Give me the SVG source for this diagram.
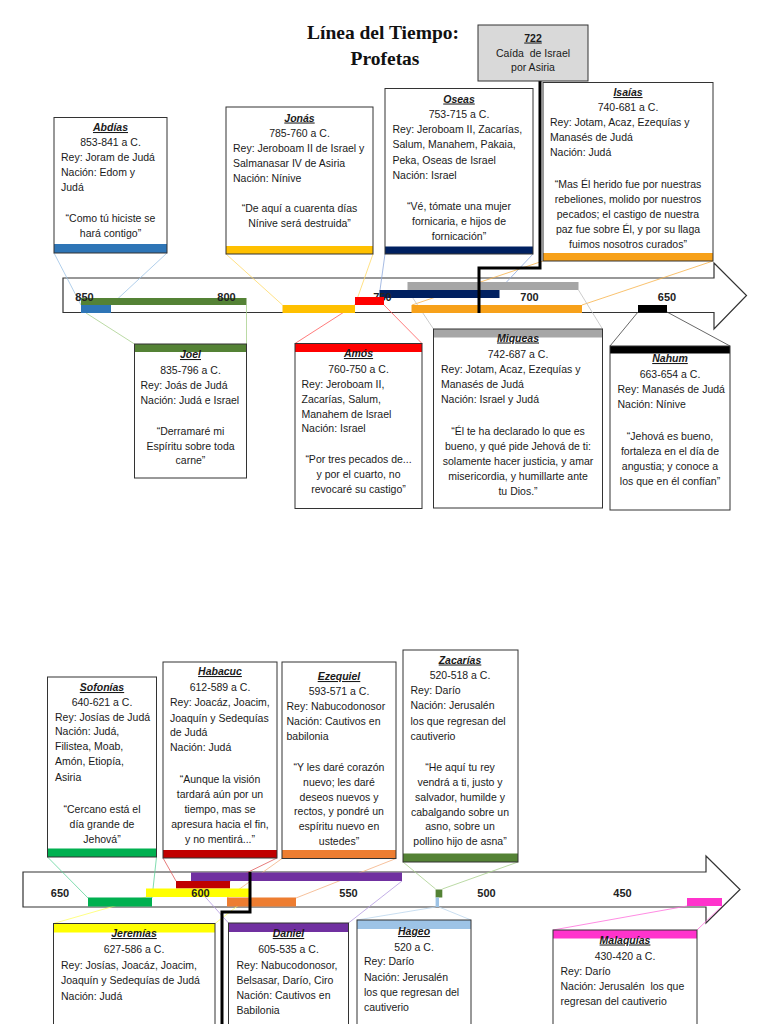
<svg xmlns="http://www.w3.org/2000/svg" width="768" height="1024" viewBox="0 0 768 1024">
<style>
.bg{fill:#fff;stroke:none}
.bd{fill:none;stroke:#333;stroke-width:1}
.t{font-family:"Liberation Sans",Arial,sans-serif;font-size:10.5px;fill:#1a1a1a}
.c{text-anchor:middle}
.n{font-weight:bold;font-style:italic;text-decoration:underline}
.y{font-family:"Liberation Sans",Arial,sans-serif;font-size:11px;font-weight:bold;fill:#222;text-anchor:middle}
.arrow{fill:#fff;stroke:#333;stroke-width:1.2;stroke-linejoin:miter}
.conn line{stroke-width:0.8;fill:none}
.thick{fill:none;stroke:#000;stroke-width:3}
.title{font-family:"Liberation Serif","Times New Roman",serif;font-size:19.5px;font-weight:bold;text-anchor:middle;fill:#111}
</style>

<g id="title">
<text class="title" x="383" y="39">Línea del Tiempo:</text>
<text class="title" x="385" y="64.5">Profetas</text>
</g>

<!-- Timeline 1 -->
<g id="timeline1">
<path class="arrow" d="M63,278 H714 V263 L746.5,295.5 L714,329 V312.5 H63 Z"/>
</g>

<!-- Timeline 2 -->
<g id="timeline2">
<path class="arrow" d="M23,872 H706 V856 L740,889.5 L706,923 V907 H23 Z"/>
</g>

<g id="connectors" class="conn">
<!-- section 1 -->
<line x1="54" y1="253" x2="81" y2="305" stroke="#9dc3e6"/>
<line x1="167" y1="253" x2="111" y2="305" stroke="#9dc3e6"/>
<line x1="226" y1="254" x2="282.5" y2="305" stroke="#ffd966"/>
<line x1="373" y1="254" x2="355" y2="305" stroke="#ffd966"/>
<line x1="385" y1="254" x2="380" y2="290" stroke="#8faadc"/>
<line x1="533" y1="254" x2="499" y2="290" stroke="#8faadc"/>
<line x1="543" y1="261" x2="412" y2="305" stroke="#f8b24a"/>
<line x1="713" y1="261" x2="582" y2="305" stroke="#f8b24a"/>
<line x1="86" y1="313" x2="134.5" y2="344" stroke="#a9d18e"/>
<line x1="246.5" y1="305" x2="246.5" y2="344" stroke="#a9d18e"/>
<line x1="355" y1="305" x2="295" y2="343.5" stroke="#ff5b5b"/>
<line x1="384" y1="305" x2="422" y2="343.5" stroke="#ff5b5b"/>
<line x1="407.5" y1="290" x2="433.5" y2="329" stroke="#bfbfbf"/>
<line x1="578.5" y1="290" x2="602.5" y2="329" stroke="#bfbfbf"/>
<line x1="638" y1="312" x2="610" y2="346" stroke="#404040"/>
<line x1="667" y1="312" x2="730" y2="346" stroke="#404040"/>
<!-- section 2 -->
<line x1="47.5" y1="857" x2="88" y2="898" stroke="#5fd39a"/>
<line x1="156.5" y1="857" x2="152" y2="898" stroke="#5fd39a"/>
<line x1="163" y1="858" x2="176" y2="881" stroke="#e05a5a"/>
<line x1="277" y1="858" x2="230" y2="881" stroke="#e05a5a"/>
<line x1="282" y1="858.5" x2="227" y2="898" stroke="#f4b183"/>
<line x1="396" y1="858.5" x2="296" y2="898" stroke="#f4b183"/>
<line x1="403" y1="862" x2="435.6" y2="889" stroke="#a9d18e"/>
<line x1="518" y1="862" x2="442.3" y2="889" stroke="#a9d18e"/>
<line x1="146" y1="897" x2="53.5" y2="923.5" stroke="#ffff66"/>
<line x1="249" y1="897" x2="215" y2="923.5" stroke="#ffff66"/>
<line x1="191" y1="881" x2="228.5" y2="923" stroke="#b49ae0"/>
<line x1="402" y1="881" x2="348.5" y2="923" stroke="#b49ae0"/>
<line x1="435.6" y1="907" x2="357" y2="920" stroke="#bdd7ee"/>
<line x1="439" y1="907" x2="471" y2="920" stroke="#bdd7ee"/>
<line x1="687" y1="906" x2="553" y2="930" stroke="#ff6fdc"/>
<line x1="722" y1="906" x2="697" y2="930" stroke="#ff6fdc"/>
</g>

<g id="bars1">
<rect x="81" y="298" width="165.5" height="7" fill="#548235"/>
<rect x="81" y="305" width="30" height="8" fill="#2e75b6"/>
<rect x="282.5" y="305" width="72.5" height="8" fill="#ffc000"/>
<rect x="379.5" y="290" width="120" height="8" fill="#002060"/>
<rect x="407.5" y="282" width="171" height="8" fill="#a6a6a6"/>
<rect x="411.5" y="305" width="170.5" height="8" fill="#f7a11a"/>
<rect x="638" y="305" width="29" height="7.5" fill="#000"/>
<text class="y" x="84.5" y="301">850</text>
<text class="y" x="226.5" y="301">800</text>
<text class="y" x="382.5" y="301">750</text>
<text class="y" x="529.5" y="301">700</text>
<text class="y" x="667" y="301">650</text>
<rect x="355" y="297" width="29" height="8" fill="#ff0000"/>
</g>

<g id="bars2">
<rect x="191" y="872.5" width="211" height="8.5" fill="#7030a0"/>
<rect x="176" y="881" width="54" height="7.5" fill="#c00000"/>
<rect x="146" y="888.5" width="103.5" height="8.5" fill="#ffff00"/>
<rect x="88" y="897.5" width="64" height="9" fill="#00b050"/>
<rect x="227" y="897.5" width="69" height="9" fill="#ed7d31"/>
<rect x="435.6" y="889.5" width="6.7" height="8" fill="#548235"/>
<rect x="435.6" y="897.5" width="3.4" height="9.5" fill="#9dc3e6"/>
<rect x="687" y="898" width="35" height="8" fill="#ff33cc"/>
<text class="y" x="60" y="897">650</text>
<text class="y" x="200.5" y="897">600</text>
<text class="y" x="348.5" y="897">550</text>
<text class="y" x="486.5" y="897">500</text>
<text class="y" x="622.5" y="897">450</text>
</g>

<g id="links">
<path class="thick" d="M540,81 V268 H479 V313"/>
<path class="thick" d="M250,872 V912 H222 V1030"/>
</g>

<g id="n722">
<rect x="478" y="25" width="110" height="56" fill="#d9d9d9" stroke="#333" stroke-width="1"/>
<text class="t c" x="533" y="41.5" font-weight="bold" text-decoration="underline">722</text>
<text class="t c" x="533" y="56.5" style="white-space:pre">Caída  de Israel</text>
<text class="t c" x="533" y="70.5">por Asiria</text>
</g>

<g id="abdias">
<rect class="bg" x="54" y="117.5" width="113" height="135.5"/>
<rect x="54" y="244" width="113" height="9" fill="#2e75b6"/>
<rect class="bd" x="54" y="117.5" width="113" height="135.5"/>
<text class="t c n" x="110.5" y="131">Abdías</text>
<text class="t c" x="110.5" y="145.5">853-841 a C.</text>
<text class="t" x="61" y="160.5">Rey: Joram de Judá</text>
<text class="t" x="61" y="175.5">Nación: Edom y</text>
<text class="t" x="61" y="190.5">Judá</text>
<text class="t c" x="110.5" y="221.5">“Como tú hiciste se</text>
<text class="t c" x="110.5" y="236.5">hará contigo”</text>
</g>

<g id="jonas">
<rect class="bg" x="226" y="107" width="147" height="147"/>
<rect x="226" y="246" width="147" height="8" fill="#ffc000"/>
<rect class="bd" x="226" y="107" width="147" height="147"/>
<text class="t c n" x="299.5" y="121.5">Jonás</text>
<text class="t c" x="299.5" y="136.5">785-760 a C.</text>
<text class="t" x="233" y="152">Rey: Jeroboam II de Israel y</text>
<text class="t" x="233" y="167">Salmanasar IV de Asiria</text>
<text class="t" x="233" y="182">Nación: Nínive</text>
<text class="t c" x="299.5" y="211.5">“De aquí a cuarenta días</text>
<text class="t c" x="299.5" y="226.5">Nínive será destruida”</text>
</g>

<g id="oseas">
<rect class="bg" x="385" y="88.5" width="148" height="165.5"/>
<rect x="385" y="246.5" width="148" height="7.5" fill="#002060"/>
<rect class="bd" x="385" y="88.5" width="148" height="165.5"/>
<text class="t c n" x="459" y="102.5">Oseas</text>
<text class="t c" x="459" y="117.5">753-715 a C.</text>
<text class="t" x="392.5" y="133">Rey: Jeroboam II, Zacarías,</text>
<text class="t" x="392.5" y="148">Salum, Manahem, Pakaia,</text>
<text class="t" x="392.5" y="163.5">Peka, Oseas de Israel</text>
<text class="t" x="392.5" y="179">Nación: Israel</text>
<text class="t c" x="459" y="210">“Vé, tómate una mujer</text>
<text class="t c" x="459" y="225">fornicaria, e hijos de</text>
<text class="t c" x="459" y="239.5">fornicación”</text>
</g>

<g id="isaias">
<rect class="bg" x="543" y="82.5" width="170" height="178.5"/>
<rect x="543" y="253" width="170" height="8" fill="#f7a11a"/>
<rect class="bd" x="543" y="82.5" width="170" height="178.5"/>
<text class="t c n" x="628" y="96">Isaías</text>
<text class="t c" x="628" y="110.5">740-681 a C.</text>
<text class="t" x="550" y="126">Rey: Jotam, Acaz, Ezequías y</text>
<text class="t" x="550" y="141">Manasés de Judá</text>
<text class="t" x="550" y="156">Nación: Judá</text>
<text class="t c" x="628" y="188">“Mas Él herido fue por nuestras</text>
<text class="t c" x="628" y="203">rebeliones, molido por nuestros</text>
<text class="t c" x="628" y="218">pecados; el castigo de nuestra</text>
<text class="t c" x="628" y="233">paz fue sobre Él, y por su llaga</text>
<text class="t c" x="628" y="248">fuimos nosotros curados”</text>
</g>

<g id="joel">
<rect class="bg" x="134.5" y="344" width="112" height="134"/>
<rect x="134.5" y="344" width="112" height="8" fill="#548235"/>
<rect class="bd" x="134.5" y="344" width="112" height="134"/>
<text class="t c n" x="190.5" y="358">Joel</text>
<text class="t c" x="190.5" y="373.5">835-796 a C.</text>
<text class="t" x="140.5" y="389">Rey: Joás de Judá</text>
<text class="t" x="140.5" y="404">Nación: Judá e Israel</text>
<text class="t c" x="190.5" y="435">“Derramaré mi</text>
<text class="t c" x="190.5" y="449.5">Espíritu sobre toda</text>
<text class="t c" x="190.5" y="463.5">carne”</text>
</g>

<g id="amos">
<rect class="bg" x="295" y="343.5" width="127" height="165"/>
<rect x="295" y="343.5" width="127" height="8.5" fill="#ff0000"/>
<rect class="bd" x="295" y="343.5" width="127" height="165"/>
<text class="t c n" x="358.5" y="357">Amós</text>
<text class="t c" x="358.5" y="373">760-750 a C.</text>
<text class="t" x="301.5" y="388">Rey: Jeroboam II,</text>
<text class="t" x="301.5" y="403">Zacarías, Salum,</text>
<text class="t" x="301.5" y="417.5">Manahem de Israel</text>
<text class="t" x="301.5" y="432">Nación: Israel</text>
<text class="t c" x="358.5" y="462.5">“Por tres pecados de...</text>
<text class="t c" x="358.5" y="477.5">y por el cuarto, no</text>
<text class="t c" x="358.5" y="492.5">revocaré su castigo”</text>
</g>

<g id="miqueas">
<rect class="bg" x="433.5" y="329" width="169" height="179"/>
<rect x="433.5" y="329" width="169" height="8.5" fill="#a6a6a6"/>
<rect class="bd" x="433.5" y="329" width="169" height="179"/>
<text class="t c n" x="518" y="341.5">Miqueas</text>
<text class="t c" x="518" y="357.5">742-687 a C.</text>
<text class="t" x="441" y="372.5">Rey: Jotam, Acaz, Ezequías y</text>
<text class="t" x="441" y="387.5">Manasés de Judá</text>
<text class="t" x="441" y="402.5">Nación: Israel y Judá</text>
<text class="t c" x="518" y="435">“Él te ha declarado lo que es</text>
<text class="t c" x="518" y="450">bueno, y qué pide Jehová de ti:</text>
<text class="t c" x="518" y="465">solamente hacer justicia, y amar</text>
<text class="t c" x="518" y="480">misericordia, y humillarte ante</text>
<text class="t c" x="518" y="495">tu Dios.”</text>
</g>

<g id="nahum">
<rect class="bg" x="610" y="346" width="120" height="164"/>
<rect x="610" y="346" width="120" height="7.5" fill="#000"/>
<rect class="bd" x="610" y="346" width="120" height="164"/>
<text class="t c n" x="670" y="362">Nahum</text>
<text class="t c" x="670" y="377.5">663-654 a C.</text>
<text class="t" x="617.5" y="392.5">Rey: Manasés de Judá</text>
<text class="t" x="617.5" y="407.5">Nación: Nínive</text>
<text class="t c" x="670" y="440">“Jehová es bueno,</text>
<text class="t c" x="670" y="455">fortaleza en el día de</text>
<text class="t c" x="670" y="470">angustia; y conoce a</text>
<text class="t c" x="670" y="484.5">los que en él confían”</text>
</g>

<g id="sofonias">
<rect class="bg" x="47.5" y="677" width="109" height="180"/>
<rect x="47.5" y="848.5" width="109" height="8.5" fill="#00b050"/>
<rect class="bd" x="47.5" y="677" width="109" height="180"/>
<text class="t c n" x="102" y="691">Sofonías</text>
<text class="t c" x="102" y="705.5">640-621 a C.</text>
<text class="t" x="55" y="720.5">Rey: Josías de Judá</text>
<text class="t" x="55" y="735">Nación: Judá,</text>
<text class="t" x="55" y="750">Filistea, Moab,</text>
<text class="t" x="55" y="765">Amón,  Etiopía,</text>
<text class="t" x="55" y="780.5">Asiria</text>
<text class="t c" x="102" y="813">“Cercano está el</text>
<text class="t c" x="102" y="828">día grande de</text>
<text class="t c" x="102" y="843">Jehová”</text>
</g>

<g id="habacuc">
<rect class="bg" x="163" y="662" width="114" height="196"/>
<rect x="163" y="850" width="114" height="8" fill="#c00000"/>
<rect class="bd" x="163" y="662" width="114" height="196"/>
<text class="t c n" x="220" y="675">Habacuc</text>
<text class="t c" x="220" y="690.5">612-589 a C.</text>
<text class="t" x="170" y="706">Rey: Joacáz, Joacim,</text>
<text class="t" x="170" y="721.5">Joaquín y Sedequías</text>
<text class="t" x="170" y="736">de Judá</text>
<text class="t" x="170" y="751">Nación: Judá</text>
<text class="t c" x="220" y="783">“Aunque la visión</text>
<text class="t c" x="220" y="798">tardará aún por un</text>
<text class="t c" x="220" y="812.5">tiempo, mas se</text>
<text class="t c" x="220" y="827.5">apresura hacia el fin,</text>
<text class="t c" x="220" y="842.5">y no mentirá...”</text>
</g>

<g id="ezequiel">
<rect class="bg" x="282" y="662" width="114" height="196.5"/>
<rect x="282" y="850" width="114" height="8.5" fill="#ed7d31"/>
<rect class="bd" x="282" y="662" width="114" height="196.5"/>
<text class="t c n" x="339" y="680">Ezequiel</text>
<text class="t c" x="339" y="695">593-571 a C.</text>
<text class="t" x="286.5" y="710">Rey: Nabucodonosor</text>
<text class="t" x="286.5" y="725">Nación: Cautivos en</text>
<text class="t" x="286.5" y="739.5">babilonia</text>
<text class="t c" x="339" y="771">“Y les daré corazón</text>
<text class="t c" x="339" y="786">nuevo; les daré</text>
<text class="t c" x="339" y="801">deseos nuevos y</text>
<text class="t c" x="339" y="815">rectos, y pondré un</text>
<text class="t c" x="339" y="830">espíritu nuevo en</text>
<text class="t c" x="339" y="844.5">ustedes”</text>
</g>

<g id="zacarias">
<rect class="bg" x="403" y="650" width="115" height="212"/>
<rect x="403" y="853.5" width="115" height="8.5" fill="#548235"/>
<rect class="bd" x="403" y="650" width="115" height="212"/>
<text class="t c n" x="460" y="663.5">Zacarías</text>
<text class="t c" x="460" y="678.5">520-518 a C.</text>
<text class="t" x="410.5" y="693.5">Rey: Darío</text>
<text class="t" x="410.5" y="709">Nación: Jerusalén</text>
<text class="t" x="410.5" y="724.5">los que regresan del</text>
<text class="t" x="410.5" y="739.5">cautiverio</text>
<text class="t c" x="460" y="771">“He aquí tu rey</text>
<text class="t c" x="460" y="786">vendrá a ti, justo y</text>
<text class="t c" x="460" y="801">salvador, humilde y</text>
<text class="t c" x="460" y="815.5">cabalgando sobre un</text>
<text class="t c" x="460" y="830">asno, sobre un</text>
<text class="t c" x="460" y="845">pollino hijo de asna”</text>
</g>

<g id="jeremias">
<rect class="bg" x="53.5" y="923.5" width="161.5" height="120"/>
<rect x="53.5" y="923.5" width="161.5" height="9" fill="#ffff00"/>
<rect class="bd" x="53.5" y="923.5" width="161.5" height="120"/>
<text class="t c n" x="134" y="937">Jeremías</text>
<text class="t c" x="134" y="953">627-586 a C.</text>
<text class="t" x="61" y="968.5">Rey: Josías, Joacáz, Joacim,</text>
<text class="t" x="61" y="984">Joaquín y Sedequías de Judá</text>
<text class="t" x="61" y="999.5">Nación: Judá</text>
</g>

<g id="daniel">
<rect class="bg" x="228.5" y="923" width="120" height="120"/>
<rect x="228.5" y="923" width="120" height="9" fill="#7030a0"/>
<rect class="bd" x="228.5" y="923" width="120" height="120"/>
<text class="t c n" x="288.5" y="937">Daniel</text>
<text class="t c" x="288.5" y="953">605-535 a C.</text>
<text class="t" x="236.5" y="968.5">Rey: Nabucodonosor,</text>
<text class="t" x="236.5" y="983.5">Belsasar, Darío, Ciro</text>
<text class="t" x="236.5" y="998.5">Nación: Cautivos en</text>
<text class="t" x="236.5" y="1014">Babilonia</text>
</g>

<g id="hageo">
<rect class="bg" x="357" y="920" width="114" height="120"/>
<rect x="357" y="920" width="114" height="9" fill="#9dc3e6"/>
<rect class="bd" x="357" y="920" width="114" height="120"/>
<text class="t c n" x="414" y="935">Hageo</text>
<text class="t c" x="414" y="950.5">520 a C.</text>
<text class="t" x="364" y="965">Rey: Darío</text>
<text class="t" x="364" y="980.5">Nación: Jerusalén</text>
<text class="t" x="364" y="996">los que regresan del</text>
<text class="t" x="364" y="1011">cautiverio</text>
</g>

<g id="malaquias">
<rect class="bg" x="553" y="930" width="144" height="110"/>
<rect x="553" y="930" width="144" height="8.5" fill="#ff33cc"/>
<rect class="bd" x="553" y="930" width="144" height="110"/>
<text class="t c n" x="625" y="943.5">Malaquías</text>
<text class="t c" x="625" y="960">430-420 a C.</text>
<text class="t" x="560.5" y="974.5">Rey: Darío</text>
<text class="t" x="560.5" y="989.5" style="white-space:pre">Nación: Jerusalén  los que</text>
<text class="t" x="560.5" y="1005">regresan del cautiverio</text>
</g>
</svg>
